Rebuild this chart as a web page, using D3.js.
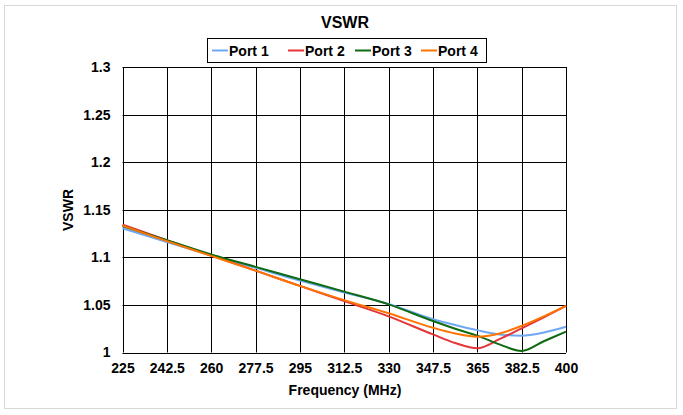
<!DOCTYPE html>
<html><head><meta charset="utf-8">
<script src="https://cdn.jsdelivr.net/npm/d3@7"></script>
<style>
html,body{margin:0;padding:0;background:#fff;}
text{font-family:"Liberation Sans",Arial,sans-serif;font-weight:bold;fill:#000;}
</style></head>
<body><svg id="c" width="683" height="415"></svg>
<script>
const freqs = [225, 242.5, 260, 277.5, 295, 312.5, 330, 347.5, 356.25, 365, 373.75, 382.5, 391.25, 400];
const port1 = [1.1305, 1.116, 1.102, 1.089, 1.0755, 1.063, 1.051, 1.035, 1.029, 1.0235, 1.019, 1.0177, 1.021, 1.027];
const port2 = [1.1343, 1.118, 1.102, 1.086, 1.070, 1.054, 1.038, 1.019, 1.010, 1.0045, 1.014, 1.0254, 1.037, 1.049];
const port3 = [1.133, 1.118, 1.103, 1.090, 1.077, 1.064, 1.0506, 1.0331, 1.025, 1.0177, 1.0085, 1.0016, 1.0118, 1.022];
const port4 = [1.1333, 1.117, 1.1015, 1.086, 1.070, 1.055, 1.0412, 1.026, 1.020, 1.0166, 1.020, 1.028, 1.038, 1.049];
const seriesNames = ["Port 1", "Port 2", "Port 3", "Port 4"];
const seriesColors = ["#6EA8F2", "#E53538", "#0E6B12", "#FF7300"];
const xTicks = [225, 242.5, 260, 277.5, 295, 312.5, 330, 347.5, 365, 382.5, 400];
const yTicks = [1, 1.05, 1.1, 1.15, 1.2, 1.25, 1.3];

const series = [port1, port2, port3, port4];
const svg = d3.select("#c");
const L = 122.5, R = 566, T = 67, B = 352.5;
const x = d3.scaleLinear().domain([225, 400]).range([L, R]);
const y = d3.scaleLinear().domain([1, 1.3]).range([B, T]);

// outer border
svg.append("rect").attr("x", 4.5).attr("y", 5.5).attr("width", 672).attr("height", 403)
  .attr("fill", "#fff").attr("stroke", "#d9d9d9").attr("stroke-width", 1);

// title
svg.append("text").attr("x", 345).attr("y", 28).attr("text-anchor", "middle")
  .style("font-size", "16px").text("VSWR");

// grid
const g = svg.append("g");
g.selectAll(".vg").data(xTicks).enter().append("line")
  .attr("x1", d => Math.round(x(d)) + 0.5).attr("x2", d => Math.round(x(d)) + 0.5)
  .attr("y1", T).attr("y2", B).attr("stroke", "#000").attr("stroke-width", 1);
g.selectAll(".hg").data(yTicks).enter().append("line")
  .attr("y1", d => Math.round(y(d)) + 0.5).attr("y2", d => Math.round(y(d)) + 0.5)
  .attr("x1", L).attr("x2", R).attr("stroke", "#000").attr("stroke-width", 1);

// axes labels via d3 axes
const xAxis = d3.axisBottom(x).tickValues(xTicks).tickSize(0).tickPadding(11).tickFormat(d => String(d));
const xa = svg.append("g").attr("transform", `translate(0,${B})`).call(xAxis);
xa.select(".domain").remove();
xa.selectAll("text").style("font-size", "14px").style("font-family", "Liberation Sans, Arial, sans-serif").style("font-weight", "bold");

const yAxis = d3.axisLeft(y).tickValues(yTicks).tickSize(0).tickPadding(12).tickFormat(d => String(d));
const ya = svg.append("g").attr("transform", `translate(${L},0)`).call(yAxis);
ya.select(".domain").remove();
ya.selectAll("text").style("font-size", "14px").style("font-family", "Liberation Sans, Arial, sans-serif").style("font-weight", "bold");

// axis titles
svg.append("text").attr("x", 345).attr("y", 395).attr("text-anchor", "middle")
  .style("font-size", "14px").text("Frequency (MHz)");
svg.append("text").attr("transform", "translate(73,210) rotate(-90)").attr("text-anchor", "middle")
  .style("font-size", "14px").text("VSWR");

// lines
const line = d3.line().x((d, i) => x(freqs[i])).y(d => y(d)).curve(d3.curveMonotoneX);
svg.selectAll(".s").data(series).enter().append("path")
  .attr("d", d => line(d)).attr("fill", "none")
  .attr("stroke", (d, i) => seriesColors[i]).attr("stroke-width", 2);

// legend
const lg = svg.append("g");
lg.append("rect").attr("x", 207.5).attr("y", 38.5).attr("width", 279).attr("height", 24)
  .attr("fill", "#fff").attr("stroke", "#000").attr("stroke-width", 1);
const lx = [212, 288, 355, 421];
seriesNames.forEach((n, i) => {
  lg.append("line").attr("x1", lx[i]).attr("x2", lx[i] + 16).attr("y1", 50.5).attr("y2", 50.5)
    .attr("stroke", seriesColors[i]).attr("stroke-width", 2);
  lg.append("text").attr("x", lx[i] + 17).attr("y", 55.5).style("font-size", "14px").text(n);
});
</script></body></html>
